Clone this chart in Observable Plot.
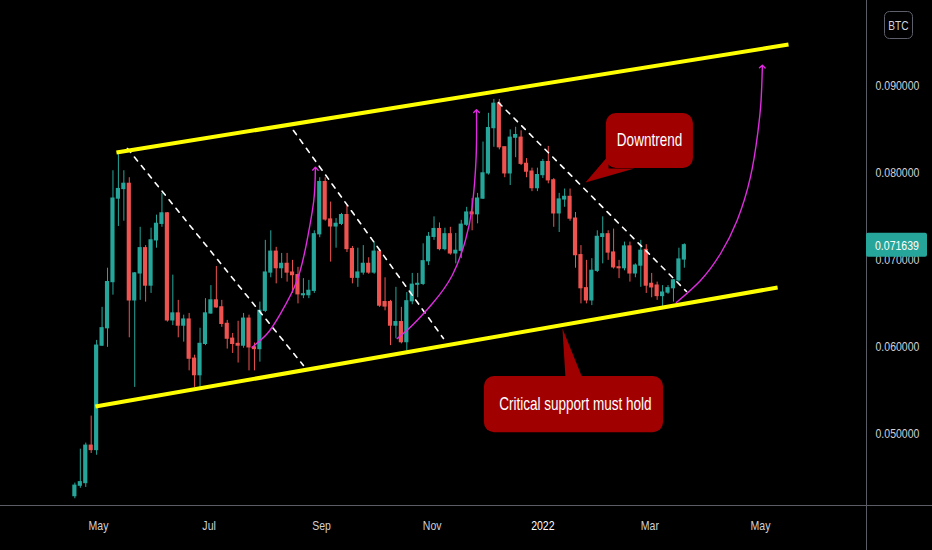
<!DOCTYPE html>
<html><head><meta charset="utf-8">
<script src="https://cdn.jsdelivr.net/npm/d3@7"></script>
<script src="https://cdn.jsdelivr.net/npm/@observablehq/plot@0.6"></script>
<style>
html,body{margin:0;padding:0;background:#000;}
#chart{position:relative;width:932px;height:550px;overflow:hidden;background:#000;}
</style></head><body><div id="chart"></div>
<script>
// ---- Candle data (3-day candles, ETH/BTC) ----
const startDate = "2021-04-18";
const candleOpen = [0.0428,0.0440,0.0443,0.0486,0.0481,0.0601,0.0621,0.0674,0.0770,0.0781,
0.0787,0.0653,0.0684,0.0713,0.0670,0.0722,0.0741,0.0753,0.0630,0.0638,
0.0624,0.0631,0.0586,0.0567,0.0603,0.0638,0.0653,0.0645,0.0626,0.0609,
0.0603,0.0601,0.0632,0.0599,0.0597,0.0641,0.0685,0.0709,0.0690,0.0695,
0.0685,0.0682,0.0659,0.0659,0.0664,0.0729,0.0789,0.0746,0.0738,0.0741,
0.0751,0.0712,0.0679,0.0685,0.0695,0.0685,0.0709,0.0651,0.0651,0.0624,
0.0628,0.0605,0.0652,0.0671,0.0672,0.0698,0.0726,0.0735,0.0712,0.0729,
0.0707,0.0710,0.0740,0.0754,0.0752,0.0770,0.0799,0.0851,0.0879,0.0829,
0.0799,0.0840,0.0840,0.0810,0.0801,0.0782,0.0797,0.0812,0.0791,0.0753,
0.0769,0.0772,0.0747,0.0705,0.0667,0.0653,0.0687,0.0726,0.0729,0.0708,
0.0691,0.0690,0.0715,0.0684,0.0693,0.0711,0.0672,0.0670,0.0658,0.0662,
0.0667,0.0676,0.0700];
const candleHigh = [0.0443,0.0482,0.0489,0.0520,0.0607,0.0645,0.0690,0.0802,0.0823,0.0802,
0.0794,0.0685,0.0737,0.0716,0.0736,0.0751,0.0776,0.0754,0.0682,0.0653,
0.0636,0.0638,0.0590,0.0621,0.0655,0.0670,0.0692,0.0653,0.0630,0.0615,
0.0629,0.0638,0.0636,0.0604,0.0651,0.0722,0.0733,0.0714,0.0707,0.0707,
0.0699,0.0691,0.0678,0.0676,0.0733,0.0794,0.0794,0.0766,0.0747,0.0753,
0.0762,0.0715,0.0713,0.0716,0.0702,0.0720,0.0711,0.0679,0.0653,0.0668,
0.0645,0.0662,0.0684,0.0684,0.0718,0.0731,0.0749,0.0742,0.0736,0.0737,
0.0730,0.0745,0.0760,0.0770,0.0776,0.0835,0.0868,0.0884,0.0884,0.0829,
0.0849,0.0852,0.0848,0.0816,0.0805,0.0805,0.0815,0.0830,0.0793,0.0776,
0.0781,0.0781,0.0754,0.0716,0.0699,0.0701,0.0733,0.0749,0.0733,0.0735,
0.0699,0.0720,0.0720,0.0695,0.0722,0.0717,0.0684,0.0674,0.0670,0.0670,
0.0677,0.0713,0.0718];
const candleLow = [0.0425,0.0437,0.0438,0.0477,0.0475,0.0600,0.0599,0.0659,0.0738,0.0744,
0.0610,0.0553,0.0653,0.0651,0.0661,0.0713,0.0737,0.0628,0.0624,0.0610,
0.0605,0.0572,0.0553,0.0553,0.0601,0.0637,0.0644,0.0622,0.0597,0.0592,
0.0581,0.0598,0.0572,0.0572,0.0582,0.0639,0.0679,0.0672,0.0678,0.0674,
0.0661,0.0649,0.0655,0.0655,0.0661,0.0725,0.0744,0.0697,0.0713,0.0739,
0.0708,0.0672,0.0668,0.0682,0.0683,0.0683,0.0645,0.0641,0.0601,0.0609,
0.0603,0.0595,0.0648,0.0656,0.0670,0.0693,0.0722,0.0710,0.0710,0.0705,
0.0695,0.0701,0.0738,0.0733,0.0741,0.0769,0.0797,0.0829,0.0826,0.0794,
0.0785,0.0817,0.0808,0.0794,0.0778,0.0778,0.0793,0.0787,0.0737,0.0731,
0.0760,0.0744,0.0690,0.0649,0.0649,0.0647,0.0685,0.0695,0.0699,0.0689,
0.0678,0.0687,0.0674,0.0679,0.0668,0.0661,0.0656,0.0653,0.0644,0.0660,
0.0651,0.0674,0.0690];
const candleClose = [0.0440,0.0444,0.0486,0.0481,0.0601,0.0621,0.0674,0.0770,0.0781,0.0787,
0.0653,0.0684,0.0713,0.0670,0.0722,0.0741,0.0753,0.0630,0.0638,0.0624,
0.0631,0.0586,0.0567,0.0603,0.0638,0.0653,0.0645,0.0626,0.0609,0.0603,
0.0601,0.0632,0.0599,0.0597,0.0641,0.0685,0.0709,0.0690,0.0695,0.0685,
0.0682,0.0660,0.0660,0.0664,0.0729,0.0789,0.0746,0.0738,0.0741,0.0751,
0.0712,0.0679,0.0685,0.0695,0.0685,0.0709,0.0647,0.0646,0.0624,0.0628,
0.0605,0.0652,0.0671,0.0672,0.0698,0.0726,0.0735,0.0712,0.0729,0.0707,
0.0710,0.0740,0.0754,0.0752,0.0770,0.0799,0.0851,0.0879,0.0829,0.0799,
0.0840,0.0843,0.0810,0.0801,0.0782,0.0797,0.0812,0.0791,0.0753,0.0769,
0.0772,0.0747,0.0705,0.0667,0.0653,0.0687,0.0726,0.0729,0.0708,0.0691,
0.0690,0.0715,0.0684,0.0693,0.0710,0.0670,0.0668,0.0658,0.0662,0.0667,
0.0676,0.0700,0.071639];
const lastPrice = 0.071639;

// ---- Axis ticks ----
const xTickDates = ["2021-05-01","2021-07-01","2021-09-01","2021-11-01","2022-01-01","2022-03-01","2022-05-01"];
const xTickLabels = ["May","Jul","Sep","Nov","2022","Mar","May"];
const yTicks = [0.05,0.06,0.07,0.08,0.09];

// ---- Drawings (date, price) ----
const channelId = ["upper","upper","lower","lower"];
const channelDate = ["2021-05-10T22:00","2022-05-16T10:00","2021-04-29T08:00","2022-05-10T10:00"];
const channelPrice = [0.0823,0.09471,0.0531,0.06678];

const dashId = ["d1","d1","d2","d2","d3","d3"];
const dashDate = ["2021-05-17","2021-08-22","2021-08-16T12:00","2021-11-07T05:00","2021-12-07T12:00","2022-03-21T05:00"];
const dashPrice = [0.08276,0.05782,0.08483,0.06092,0.08805,0.06632];

const arrowId = ["a1","a1","a1","a1","a1","a1","a1",
  "a2","a2","a2","a2","a2","a2","a2","a2",
  "a3","a3","a3","a3","a3","a3","a3","a3"];
const arrowDate = ["2021-07-24T16:00","2021-08-02","2021-08-09T07:00","2021-08-18T12:00","2021-08-24","2021-08-27T17:00","2021-08-28T14:00",
  "2021-10-12T17:00","2021-10-20T22:00","2021-11-01","2021-11-12","2021-11-19T07:00","2021-11-23","2021-11-25T05:00","2021-11-25T10:00",
  "2022-03-15T14:00","2022-03-28T22:00","2022-04-08T22:00","2022-04-18T02:00","2022-04-25T10:00","2022-04-29T10:00","2022-05-01T07:00","2022-05-02"];
const arrowPrice = [0.05992,0.06146,0.06376,0.06759,0.07218,0.07678,0.08043,
  0.06091,0.06241,0.06491,0.06816,0.07218,0.07601,0.08176,0.08705,
  0.06506,0.06759,0.07066,0.07448,0.07946,0.08445,0.08828,0.09218];

const calloutText = ["Downtrend","Critical support must hold"];
const calloutTextDate = ["2022-02-28T19:00","2022-01-18T22:00"];
const calloutTextPrice = [0.08368,0.05333];
const calloutBoxDate1 = ["2022-02-05","2021-11-29T19:00"];
const calloutBoxDate2 = ["2022-03-25","2022-03-08T12:00"];
const calloutBoxPrice1 = [0.08046,0.0501];
const calloutBoxPrice2 = [0.08678,0.05655];
const tailId = ["t1","t1","t1","t1","t2","t2","t2"];
const tailDate = ["2022-01-24T12:00","2022-02-06T05:00","2022-02-06T05:00","2022-02-20T10:00",
  "2022-01-11T19:00","2022-01-13T12:00","2022-01-22T22:00"];
const tailPrice = [0.07885,0.08195,0.08046,0.08046, 0.06207,0.05632,0.05632];

// ---- Build ----
const UP = "#26a69a", DOWN = "#ef5350", YEL = "#ffff00", MAG = "#e02be0", CALL = "#a00000";
const FONT = '"Liberation Sans",Arial,sans-serif';
const AXIS_SQUEEZE = 0.78;    // condensed look of the original UI font
const CALLOUT_SQUEEZE = 0.73;
const DAY = 864e5;
const t0 = Date.parse(startDate);
const candles = candleOpen.map((o, i) => ({
  date: new Date(t0 + i * 3 * DAY), open: o, high: candleHigh[i], low: candleLow[i], close: candleClose[i],
  color: candleClose[i] >= o ? UP : DOWN
}));
const D = s => new Date(s + (s.length === 10 ? "T00:00Z" : "Z"));
const channels = channelId.map((id, i) => ({id, date: D(channelDate[i]), price: channelPrice[i]}));
const dashes = dashId.map((id, i) => ({id, date: D(dashDate[i]), price: dashPrice[i]}));
const arrows = arrowId.map((id, i) => ({id, date: D(arrowDate[i]), price: arrowPrice[i]}));
const boxes = calloutText.map((t, i) => ({x1: D(calloutBoxDate1[i]), x2: D(calloutBoxDate2[i]), y1: calloutBoxPrice1[i], y2: calloutBoxPrice2[i]}));
const labels = calloutText.map((t, i) => ({text: t, date: D(calloutTextDate[i]), price: calloutTextPrice[i]}));
const tails = tailId.map((id, i) => ({id, date: D(tailDate[i]), price: tailPrice[i]}));
const labelByTime = new Map(xTickDates.map((s, i) => [+D(s), xTickLabels[i]]));

const chart = Plot.plot({
  width: 932, height: 550,
  marginLeft: 0, marginRight: 66, marginTop: 0, marginBottom: 45,
  style: {background: "#000", color: "#cfd1d6", fontFamily: FONT, fontSize: "13.5px", overflow: "visible"},
  color: {type: "identity"},
  x: {type: "utc", domain: [D("2021-03-08"), D("2022-06-28T10:00")], ticks: xTickDates.map(D),
      tickFormat: d => labelByTime.get(+d), tickSize: 0, tickPadding: 15, label: null},
  y: {domain: [0.041724, 0.09977], axis: "right", ticks: yTicks, tickFormat: d3.format(".6f"),
      tickSize: 0, tickPadding: 9, label: null},
  marks: [
    Plot.ruleX(candles, {x: "date", y1: "low", y2: "high", stroke: "color", strokeWidth: 1}),
    Plot.rect(candles, {x1: d => new Date(+d.date - 1.15 * DAY), x2: d => new Date(+d.date + 1.15 * DAY),
      y1: d => Math.min(d.open, d.close), y2: d => Math.max(d.open, d.close), fill: "color",
      insetTop: -0.6, insetBottom: -0.6}),
    Plot.line(dashes, {x: "date", y: "price", z: "id", stroke: "#ffffff", strokeWidth: 1.6, strokeDasharray: "5,6"}),
    Plot.line(channels, {x: "date", y: "price", z: "id", stroke: YEL, strokeWidth: 4, strokeLinecap: "butt"}),
    Plot.line(arrows, {x: "date", y: "price", z: "id", stroke: MAG, strokeWidth: 1.4, curve: "natural", markerEnd: "arrow"}),
    Plot.line(tails, {x: "date", y: "price", z: "id", fill: CALL, stroke: "none"}),
    Plot.rect(boxes, {x1: "x1", x2: "x2", y1: "y1", y2: "y2", fill: CALL, rx: 10}),
    Plot.text(labels, {x: "date", y: "price", text: "text", fill: "#ffffff", fontSize: 18.5, className: "callout"})
  ]
});
document.getElementById("chart").appendChild(chart);

// chrome: separators, last-price tag, currency badge
const svg = d3.select(chart);
const ys = chart.scale("y");
const SEP = "#5a5d66";
svg.append("line").attr("x1", 0).attr("x2", 932).attr("y1", 505.5).attr("y2", 505.5).attr("stroke", SEP);
svg.append("line").attr("x1", 866.5).attr("x2", 866.5).attr("y1", 0).attr("y2", 550).attr("stroke", SEP);
const py = ys.apply(lastPrice);
svg.append("rect").attr("x", 866).attr("y", py - 12).attr("width", 61).attr("height", 24).attr("rx", 2).attr("fill", UP);
svg.append("text").attr("x", 875).attr("y", py).attr("dy", "0.36em").attr("fill", "#fff")
  .attr("text-anchor", "start").attr("font-family", FONT).attr("font-size", 13.5).text(d3.format(".6f")(lastPrice));
svg.append("rect").attr("x", 884.5).attr("y", 11.5).attr("width", 28).attr("height", 27).attr("rx", 5)
  .attr("fill", "none").attr("stroke", "#5d606b");
svg.append("text").attr("x", 898.5).attr("y", 25).attr("dy", "0.36em").attr("text-anchor", "middle")
  .attr("fill", "#d1d4dc").attr("font-family", FONT).attr("font-size", 13).text("BTC");

// year label brighter, as in the original
svg.selectAll("text").filter(function() { return this.textContent === "2022"; }).attr("fill", "#ffffff");

// condense every text horizontally
svg.selectAll("text").each(function() {
  const w = this.getComputedTextLength();
  const inCallout = this.closest(".callout") !== null;
  const k = inCallout ? CALLOUT_SQUEEZE : AXIS_SQUEEZE;
  if (w > 0) { this.setAttribute("textLength", (w * k).toFixed(1)); this.setAttribute("lengthAdjust", "spacingAndGlyphs"); }
});
</script>
</body></html>
